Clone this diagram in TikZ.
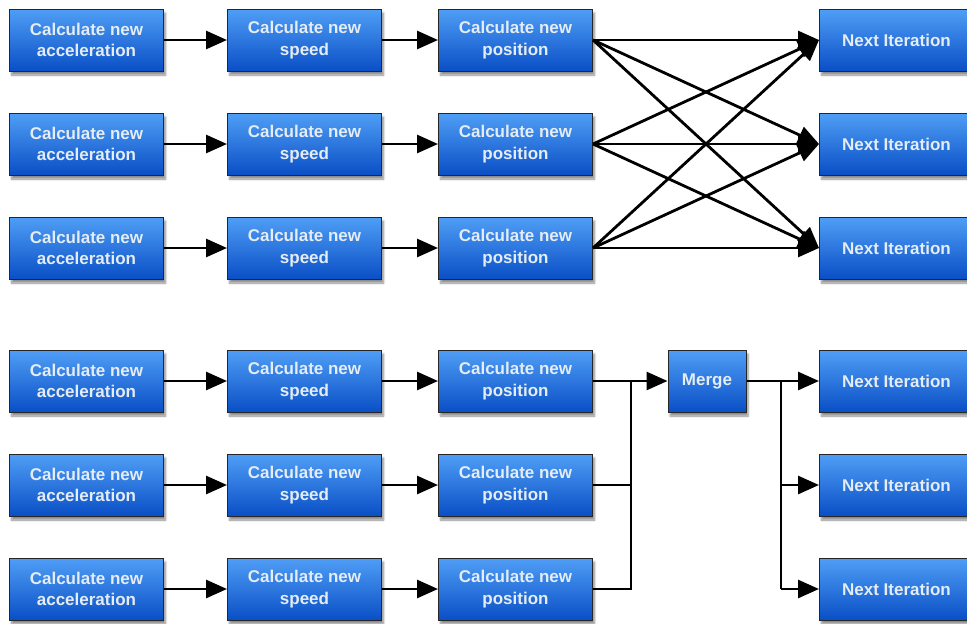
\documentclass[tikz,border=0pt]{standalone}
\usepackage{fontspec}
\setmainfont{Liberation Sans}
\usetikzlibrary{arrows.meta,shadows.blur}
\definecolor{boxtop}{HTML}{4F9EF6}
\definecolor{boxbot}{HTML}{0A4FC6}
\definecolor{boxtext}{HTML}{E4ECF4}
\tikzset{
  box/.style={draw=black!85, line width=1pt, top color=boxtop, bottom color=boxbot,
    text=boxtext, font=\bfseries\fontsize{17}{21.5}\selectfont, align=center,
    minimum height=62pt, inner sep=0pt,
    blur shadow={shadow xshift=2pt, shadow yshift=-4pt, shadow blur steps=6, shadow opacity=45}},
  wbox/.style={box, minimum width=154pt},
  conn/.style={line width=2.8pt, black},
  arr/.style={conn, -{Triangle[length=21pt,width=18pt]}},
}
\begin{document}
\begin{tikzpicture}[x=1pt,y=-1pt]
\useasboundingbox (0,0) rectangle (967,624);
\foreach \r/\y in {1/40,2/144,3/248,4/381,5/485,6/589}{
  \node[wbox] (a\r) at (86.5,\y) {Calculate new\\acceleration};
  \node[wbox] (s\r) at (304.5,\y) {Calculate new\\speed};
  \node[wbox] (p\r) at (515.5,\y) {Calculate new\\position};
  \draw[arr] (a\r) -- (s\r);
  \draw[arr] (s\r) -- (p\r);
}
\foreach \r/\y in {1/40,2/144,3/248,4/381,5/485,6/589}{
  \node[box, minimum width=160pt, anchor=west] (n\r) at (819,\y) {\makebox[154pt][c]{Next Iteration}\hspace*{6pt}};
}
\foreach \i in {1,2,3}{
  \foreach \j in {1,2,3}{
    \draw[arr] (p\i.east) -- (n\j.west);
  }
}
\node[box, minimum width=78pt] (m) at (707,381) {Merge};
\coordinate (j1) at (631,381);
\coordinate (j2) at (631,485);
\coordinate (j3) at (631,589);
\coordinate (k1) at (781,381);
\coordinate (k2) at (781,485);
\coordinate (k3) at (781,589);
\draw[conn] (p4.east) -- (j1);
\draw[conn] (p5.east) -- (j2);
\draw[conn, line join=miter] (p6.east) -- (j3) -- (j1);
\draw[arr] (j1) -- (m.west);
\draw[arr] (m.east) -- (n4.west);
\draw[conn] (k1) -- (k3);
\draw[arr] (k2) -- (n5.west);
\draw[arr] (k3) -- (n6.west);
\end{tikzpicture}
\end{document}
